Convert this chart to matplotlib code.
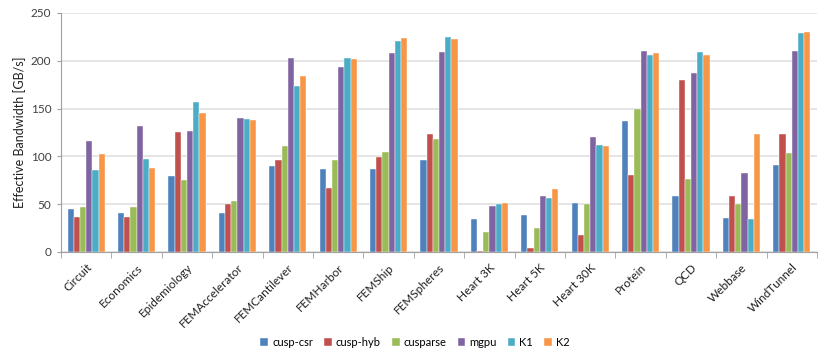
import matplotlib
matplotlib.use("Agg")
import matplotlib.pyplot as plt
import numpy as np

categories = ["Circuit", "Economics", "Epidemiology", "FEMAccelerator", "FEMCantilever",
              "FEMHarbor", "FEMShip", "FEMSpheres", "Heart 3K", "Heart 5K", "Heart 30K",
              "Protein", "QCD", "Webbase", "WindTunnel"]
series_names = ["cusp-csr", "cusp-hyb", "cusparse", "mgpu", "K1", "K2"]
cusp_csr = [44.5, 40.7, 79, 41, 90.4, 87, 86.6, 96.7, 35, 38.3, 50.8, 136.6, 58.4, 35.5, 91.1]
cusp_hyb = [36.5, 36.5, 125.2, 50, 96.7, 66.8, 99.8, 123.8, 1.4, 4.2, 17.4, 80.3, 179.8, 59.1, 123.4]
cusparse = [47, 46.6, 75, 53.5, 111.3, 96, 105, 117.9, 20.5, 25.4, 50, 149.2, 76.8, 49.7, 103.3]
mgpu = [116.5, 132, 126.2, 140, 203, 193, 208.6, 209, 47.6, 59.1, 120.7, 210.4, 187.4, 83.1, 210.7]
k1 = [86.2, 97.7, 157.2, 139.4, 173.5, 202.7, 220.8, 224.6, 49.7, 56.7, 112, 206.2, 209.3, 34.8, 228.8]
k2 = [103, 88.3, 145.7, 138.4, 184.6, 202.4, 223.6, 223.2, 51, 65.4, 110.6, 208.3, 205.8, 123.4, 229.8]
yticks = [0, 50, 100, 150, 200, 250]

colors = ["#4F81BD", "#C0504D", "#9BBB59", "#8064A2", "#4BACC6", "#F79646"]
data = [cusp_csr, cusp_hyb, cusparse, mgpu, k1, k2]

plt.rcParams['font.family'] = ['Lato', 'DejaVu Sans']

fig = plt.figure(figsize=(8.3, 3.6), dpi=100)
ax = fig.add_axes([61/830, 1-252/360, (817-61)/830, (252-13)/360])

x = np.arange(len(categories))
bw = 0.123
for i, (vals, col, name) in enumerate(zip(data, colors, series_names)):
    ax.bar(x + (i - 2.5) * bw, vals, width=bw, color=col, label=name,
           edgecolor="white", linewidth=0.3, zorder=3)

ax.set_xlim(-0.5, len(categories) - 0.5)
ax.set_ylim(0, 250)
ax.set_yticks(yticks)
ax.yaxis.grid(True, color="#E0E0E0", linewidth=1.2, zorder=0)
ax.set_axisbelow(True)
for s in ["top", "right"]:
    ax.spines[s].set_visible(False)
ax.spines["left"].set_color("#A0A0A0")
ax.spines["bottom"].set_color("#A0A0A0")
ax.tick_params(axis="y", labelsize=8.5, colors="#404040", length=3, color="#A0A0A0", pad=4)
ax.set_ylabel("Effective Bandwidth [GB/s]", fontsize=9, color="#202020", labelpad=3)

ax.set_xticks(x)
ax.set_xticklabels(categories, rotation=45, ha="right", rotation_mode="anchor", fontsize=8.5, color="#202020")
ax.tick_params(axis="x", which="major", length=0, pad=7)
ax.set_xticks(np.arange(-0.5, len(categories) + 0.5, 1), minor=True)
ax.tick_params(axis="x", which="minor", length=4, color="#A0A0A0")

leg = fig.legend(loc="center", bbox_to_anchor=(0.5, 1 - 342/360), ncol=6, frameon=False,
                 fontsize=8, handlelength=0.7, handleheight=0.7, handletextpad=0.35, columnspacing=1.0)

fig.savefig("out.png", dpi=100)
